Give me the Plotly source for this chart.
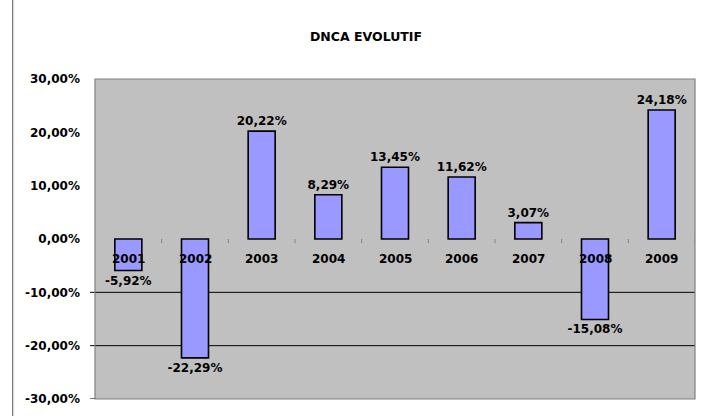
import plotly.graph_objects as go

years = ['2001', '2002', '2003', '2004', '2005', '2006', '2007', '2008', '2009']
values = [-5.92, -22.29, 20.22, 8.29, 13.45, 11.62, 3.07, -15.08, 24.18]
ytick_vals = [30, 20, 10, 0, -10, -20, -30]
ytick_text = ['30,00%', '20,00%', '10,00%', '0,00%', '-10,00%', '-20,00%', '-30,00%']
grid_vals = [-10, -20]
title_text = 'DNCA EVOLUTIF'

labels = [f"{v:.2f}".replace('.', ',') + '%' for v in values]

FONT = 'DejaVu Sans'
W, H = 703, 416
L, R, T, B = 95, 8, 79, 17
pw = W - L - R
ph = H - T - B

fig = go.Figure()
fig.add_trace(go.Bar(
    x=years, y=values,
    marker=dict(color='#9999FF', line=dict(color='black', width=1.6)),
    text=labels, textposition='outside', constraintext='none',
    textfont=dict(family=FONT, size=12, color='black', weight='bold'),
    cliponaxis=False, width=0.405, hoverinfo='skip',
))

shapes = []
# plot-area border
shapes.append(dict(type='rect', xref='paper', yref='paper', x0=0, x1=1, y0=0, y1=1,
                   line=dict(color='#808080', width=1.2), layer='above'))
# negative gridlines (extend left as ticks)
for g in grid_vals:
    shapes.append(dict(type='line', xref='paper', yref='y', x0=-5 / pw, x1=1, y0=g, y1=g,
                       line=dict(color='black', width=1), layer='below'))
shapes.append(dict(type='line', xref='paper', yref='y', x0=-5 / pw, x1=0, y0=-30, y1=-30,
                   line=dict(color='black', width=1)))
# category boundary tick marks on zero line
for i in range(len(years)):
    shapes.append(dict(type='line', xref='x', yref='y', x0=i + 0.5, x1=i + 0.5,
                       ysizemode='pixel', yanchor=0, y0=-4, y1=0,
                       line=dict(color='#808080', width=1), layer='below'))
# left vertical page line
shapes.append(dict(type='line', xref='paper', yref='paper',
                   x0=(12.7 - L) / pw, x1=(12.7 - L) / pw,
                   y0=(H - B) / ph + 0.01, y1=-B / ph - 0.01,
                   line=dict(color='#707070', width=1.2)))

annotations = []
for i, yr in enumerate(years):
    annotations.append(dict(x=i, y=0, xref='x', yref='y', text=yr, showarrow=False,
                            yanchor='middle', yshift=-20,
                            font=dict(family=FONT, size=12, color='black', weight='bold')))

fig.update_layout(
    width=W, height=H,
    margin=dict(l=L, r=R, t=T, b=B),
    paper_bgcolor='white', plot_bgcolor='#C0C0C0',
    showlegend=False,
    title=dict(text=title_text, xref='container', yref='container',
               x=366 / W, y=1 - 37 / H, xanchor='center', yanchor='middle',
               font=dict(family=FONT, size=12.5, color='black', weight='bold')),
    xaxis=dict(type='category', showticklabels=False, showgrid=False, zeroline=False,
               showline=False, ticks='', range=[-0.5, len(years) - 0.5], fixedrange=True),
    yaxis=dict(range=[-30, 30], tickvals=ytick_vals, ticktext=ytick_text,
               showgrid=False, zeroline=False, showline=False, ticks='',
               ticklabelstandoff=14, fixedrange=True,
               tickfont=dict(family=FONT, size=12, color='black', weight='bold')),
    shapes=shapes, annotations=annotations,
)

fig.write_html('out.html', config={'displayModeBar': False},
               post_script="document.body.style.margin='0';")
